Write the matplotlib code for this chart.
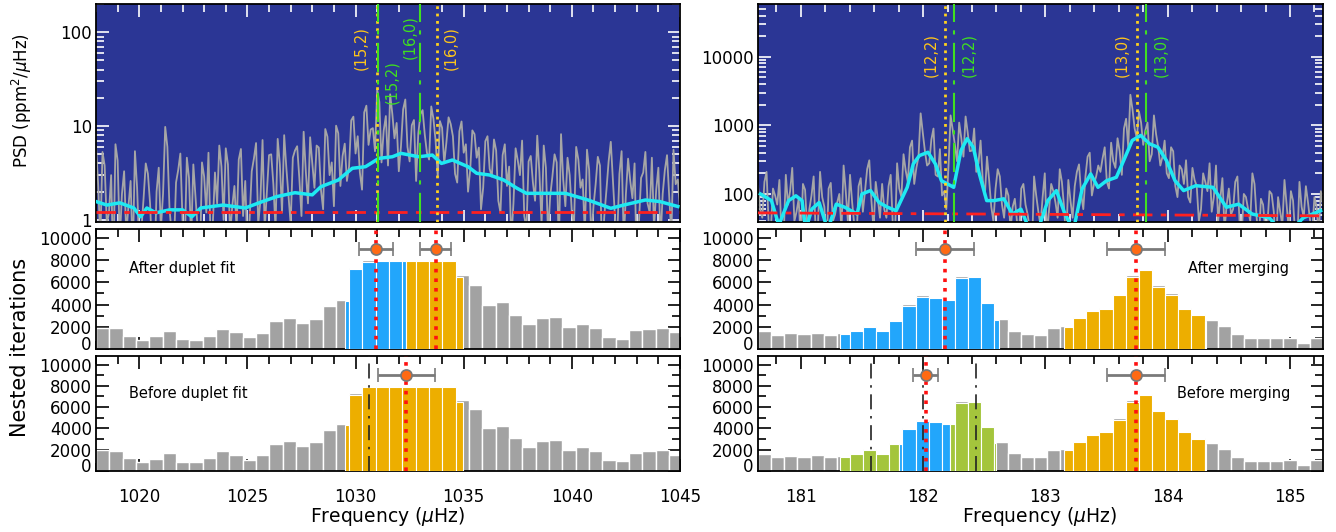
import numpy as np
import matplotlib
matplotlib.use('Agg')
import matplotlib.pyplot as plt
from matplotlib.ticker import MultipleLocator, FixedLocator, FixedFormatter, LogLocator, NullFormatter
from matplotlib.transforms import ScaledTranslation

# ---------------- top panels: power spectral density ----------------
# spectrum sampled on two interleaved grids (start, start + step/2)
psd_left_start, psd_left_step = 1018.0, 0.2
psd_left = [6.1, 0.6, 3.8, 1.2, 0.3, 4.3, 1.9, 0.7, 2.6, 5.4, 0.5,
            1.7, 3.1, 0.4, 2.0, 0.8, 9.8, 1.3, 0.5, 3.4, 1.0,
            4.6, 0.6, 1.8, 0.3, 2.9, 5.2, 0.9, 1.5, 3.7, 5.8,
            0.7, 2.3, 4.4, 1.1, 0.5, 3.3, 6.6, 1.6, 0.8, 4.9,
            2.4, 7.3, 1.2, 3.6, 0.9, 5.5, 2.8, 8.7, 1.5, 4.0,
            6.2, 2.1, 9.3, 3.0, 1.4, 8.4, 4.8, 2.6, 11.5, 5.1,
            3.2, 14.0, 6.3, 9.5, 24.5, 4.1, 12.8, 21.8, 7.4, 3.3,
            15.1, 6.0, 10.2, 2.6, 13.4, 8.1, 4.4, 12.0, 2.9, 9.6,
            6.7, 10.5, 3.1, 8.8, 5.2, 2.0, 9.0, 4.6, 1.3, 6.9,
            3.5, 7.2, 1.6, 4.9, 2.3, 0.6, 5.8, 3.0, 1.1, 4.2,
            2.5, 7.9, 0.9, 3.6, 1.8, 5.0, 0.5, 2.7, 4.6, 1.2,
            6.0, 2.2, 0.7, 3.4, 1.4, 4.7, 0.4, 2.1, 6.8, 1.0,
            3.1, 0.6, 4.5, 1.7, 0.3, 2.8, 5.3, 1.2, 0.8, 3.6,
            1.9, 4.9, 0.7, 2.4, 1.3]
psd_left_mid = [2.4, 5.3, 0.9, 3.0, 6.4, 0.6, 3.3, 1.4, 0.4, 2.2,
                0.8, 4.0, 1.5, 0.3, 3.6, 1.9, 6.0, 0.7, 2.5, 5.1,
                0.5, 2.8, 3.9, 0.8, 4.1, 1.2, 0.6, 3.2, 6.2, 1.0,
                3.9, 1.4, 0.8, 5.7, 2.6, 1.0, 4.5, 0.9, 7.1, 2.0,
                5.0, 0.8, 3.9, 8.0, 1.8, 4.6, 6.1, 1.1, 3.3, 7.6,
                2.2, 5.9, 1.3, 7.7, 4.1, 10.1, 2.3, 6.5, 3.7, 12.6,
                7.8, 2.1, 16.5, 9.2, 5.4, 18.0, 8.9, 3.8, 13.5, 10.8,
                6.1, 19.2, 4.2, 11.6, 8.3, 14.8, 5.2, 16.2, 7.0, 11.3,
                4.0, 12.4, 7.8, 2.5, 11.2, 6.4, 3.4, 8.2, 5.9, 2.2,
                7.8, 2.9, 5.5, 1.2, 6.4, 3.7, 1.5, 4.3, 7.0, 0.8,
                4.8, 1.6, 3.2, 6.2, 0.7, 2.9, 4.1, 8.2, 1.4, 3.0,
                0.9, 4.4, 2.7, 5.6, 0.6, 2.4, 3.8, 1.1, 4.2, 2.6,
                0.7, 5.4, 1.9, 2.6, 4.0, 0.9, 3.2, 1.5, 4.6, 2.1,
                0.6, 3.4, 1.8, 5.6, 2.7]
smooth_left_freq = [1018.0, 1018.5, 1019.1, 1019.75, 1020.06, 1020.35, 1020.77, 1021.4, 1022.0, 1022.43,
                    1022.84, 1023.87, 1024.9, 1025.7, 1026.35, 1027.2, 1028.0, 1028.4, 1029.2, 1029.85,
                    1030.46, 1031.08, 1031.7, 1032.1, 1032.93, 1033.55, 1033.97, 1034.48, 1035.2, 1035.6,
                    1036.2, 1036.85, 1037.47, 1037.9, 1038.7, 1039.7, 1040.75, 1041.8, 1042.4, 1043.4,
                    1044.06, 1044.9]
smooth_left_psd = [1.57, 1.44, 1.52, 1.34, 1.08, 1.34, 1.19, 1.28, 1.28, 1.08,
                   1.34, 1.44, 1.34, 1.57, 1.77, 1.95, 1.85, 2.26, 2.66, 3.55,
                   3.69, 4.53, 4.71, 5.12, 4.71, 4.91, 4.0, 4.35, 3.69, 3.14,
                   3.01, 2.66, 2.17, 1.92, 1.92, 1.92, 1.63, 1.33, 1.44, 1.63,
                   1.57, 1.39]
bg_left_freq = [1018.0, 1045.0]
bg_left_psd = [1.22, 1.22]

psd_right_start, psd_right_step = 180.65, 0.035
psd_right = [130, 45, 210, 30, 95, 160, 25, 70, 240, 55,
             20, 115, 60, 180, 35, 90, 15, 145, 50, 100,
             260, 40, 75, 20, 170, 110, 310, 30, 85, 140,
             45, 190, 25, 120, 380, 150, 600, 240, 1500, 420,
             280, 900, 180, 95, 60, 1400, 520, 1100, 350, 780,
             430, 210, 600, 95, 160, 40, 230, 70, 120, 30,
             85, 25, 140, 50, 15, 95, 35, 200, 60, 110,
             45, 150, 20, 80, 130, 270, 60, 350, 95, 180,
             210, 480, 120, 300, 650, 190, 1250, 2800, 900, 1600,
             520, 1100, 380, 750, 260, 600, 170, 420, 90, 230,
             310, 75, 160, 40, 200, 110, 55, 260, 85, 30,
             120, 60, 180, 25, 90, 40, 140, 20, 70, 35,
             100, 15, 55, 160, 30, 80, 20, 65, 130, 40,
             90, 25, 70]
psd_right_mid = [60, 150, 35, 120, 70, 25, 190, 110, 40, 85,
                 140, 30, 95, 25, 210, 65, 120, 40, 75, 30,
                 110, 190, 35, 130, 55, 230, 80, 150, 45, 60,
                 130, 35, 280, 90, 220, 480, 140, 350, 780, 260,
                 620, 190, 450, 110, 250, 850, 300, 650, 1350, 420,
                 900, 280, 160, 350, 65, 120, 180, 45, 95, 65,
                 40, 120, 70, 30, 180, 55, 90, 25, 140, 75,
                 230, 65, 160, 45, 210, 100, 180, 400, 140, 260,
                 330, 150, 560, 240, 420, 900, 480, 1700, 650, 1100,
                 850, 300, 1400, 480, 350, 200, 480, 130, 260, 140,
                 90, 240, 130, 60, 150, 280, 90, 40, 170, 70,
                 50, 150, 40, 100, 60, 200, 45, 85, 30, 110,
                 55, 90, 35, 70, 110, 25, 150, 45, 75, 30,
                 65, 110]
smooth_right_freq = [180.67, 180.76, 180.82, 180.90, 180.96, 181.01, 181.04, 181.09, 181.15, 181.22,
                     181.29, 181.36, 181.46, 181.50, 181.57, 181.64, 181.71, 181.78, 181.87, 181.92,
                     181.97, 182.04, 182.10, 182.15, 182.20, 182.25, 182.31, 182.36, 182.41, 182.46,
                     182.52, 182.58, 182.66, 182.73, 182.80, 182.87, 182.94, 183.02, 183.09, 183.16,
                     183.23, 183.30, 183.37, 183.43, 183.50, 183.58, 183.64, 183.71, 183.78, 183.85,
                     183.92, 183.99, 184.06, 184.13, 184.23, 184.37, 184.48, 184.58, 184.69, 184.83,
                     184.92, 185.01, 185.11, 185.25]
smooth_right_psd = [100, 80, 35, 80, 94, 80, 30, 60, 75, 30,
                    71, 64, 51, 100, 112, 75, 64, 57, 125, 275,
                    363, 406, 275, 156, 140, 125, 431, 640, 481, 196,
                    80, 80, 85, 51, 60, 30, 30, 80, 112, 51,
                    30, 118, 196, 125, 156, 175, 307, 604, 714, 540,
                    481, 307, 156, 112, 132, 125, 64, 71, 51, 45,
                    30, 30, 45, 57]
bg_right_freq = [180.65, 185.27]
bg_right_psd = [53, 48]

# mode identifications (yellow = one model, green = the other)
mode_labels_left = ['(15,2)', '(16,0)']
yellow_left_freq = [1031.0, 1033.75]
green_left_freq = [1031.05, 1033.0]
mode_labels_right = ['(12,2)', '(13,0)']
yellow_right_freq = [182.18, 183.75]
green_right_freq = [182.25, 183.82]

# ---------------- histograms of nested iterations ----------------
hist_left_start, hist_left_width = 1018.0, 0.616
hist_left = [1930, 1870, 1200, 810, 1140, 1660, 870, 810, 1200, 1840,
             1510, 1080, 1480, 2560, 2800, 2380, 2740, 3890, 4400, 7290,
             7980, 8000, 8000, 8000, 8000, 8000, 8000, 6630, 5800, 4000,
             4200, 3100, 2230, 2800, 2890, 1990, 2230, 1900, 1060, 900,
             1720, 1840, 1930, 1510]
hist_right_start, hist_right_width = 180.65, 0.1074
hist_right = [1630, 1270, 1450, 1330, 1480, 1300, 1420, 1720, 2110, 1720,
              2650, 4010, 4820, 4670, 4490, 6540, 6570, 4250, 2710, 1660,
              1360, 1300, 1930, 2110, 2860, 3490, 3730, 4940, 6630, 7230,
              5720, 5000, 3730, 3130, 2620, 2110, 1330, 960, 960, 960,
              990, 570, 990]

BLUE, YELLOW, GREEN = '#22a6fb', '#edae00', '#a4c53c'
after_left_ranges = [(1029.53, 1032.34, BLUE), (1032.34, 1034.95, YELLOW)]
before_left_ranges = [(1029.53, 1034.95, YELLOW)]
after_right_ranges = [(181.32, 182.62, BLUE), (183.15, 184.31, YELLOW)]
before_right_ranges = [(181.32, 181.80, GREEN), (181.80, 182.22, BLUE),
                       (182.22, 182.60, GREEN), (183.15, 184.31, YELLOW)]

fit_level = 9000
after_left_fit = [1030.95, 1033.7]
after_left_err = [0.8, 0.73]
before_left_fit = [1032.35]
before_left_err = [1.3]
after_right_fit = [182.18, 183.74]
after_right_err = [0.235, 0.235]
before_right_fit = [182.02, 183.74]
before_right_err = [0.1, 0.235]
before_left_peaks = [1030.61]
before_right_peaks = [181.57, 182.0, 182.43]

# ---------------- figure ----------------
plt.rcParams['font.family'] = 'DejaVu Sans'
plt.rcParams['mathtext.fontset'] = 'dejavusans'
W, H = 1336, 532
fig = plt.figure(figsize=(W / 100, H / 100), dpi=100)


def box(x0, x1, y0, y1):
    return [x0 / W, 1 - y1 / H, (x1 - x0) / W, (y1 - y0) / H]


LX, RX = (96, 680), (758, 1323)
ax_tl = fig.add_axes(box(LX[0], LX[1], 4, 222))
ax_tr = fig.add_axes(box(RX[0], RX[1], 4, 222))
ax_ml = fig.add_axes(box(LX[0], LX[1], 229, 349))
ax_mr = fig.add_axes(box(RX[0], RX[1], 229, 349))
ax_bl = fig.add_axes(box(LX[0], LX[1], 356, 471))
ax_br = fig.add_axes(box(RX[0], RX[1], 356, 471))

XL = (1018.0, 1045.0)
XR = (180.65, 185.27)


def style_axes(ax, xlim, major, minor, tick_color='black'):
    ax.set_xlim(*xlim)
    ax.xaxis.set_major_locator(MultipleLocator(major))
    ax.xaxis.set_minor_locator(MultipleLocator(minor))
    ax.tick_params(which='both', direction='in', top=True, right=True,
                   color=tick_color, labelsize=12, width=1.2)
    ax.tick_params(which='major', length=9)
    ax.tick_params(which='minor', length=6)
    ax.tick_params(axis='x', pad=12)
    ax.tick_params(axis='y', pad=3)
    for s in ax.spines.values():
        s.set_linewidth(1.3)


def psd_panel(ax, start, step, vals, mids, sfreq, spsd, bgf, bgp, ylim, yticks,
              labels, yfreq, gfreq, y_off, g_off, label_y):
    freq = np.concatenate([start + step * np.arange(len(vals)),
                           start + step / 2 + step * np.arange(len(mids))])
    power = np.concatenate([vals, mids])
    order = np.argsort(freq)
    ax.set_facecolor('#2b3695')
    ax.plot(freq[order], power[order], color='#a6a6a6', lw=1.3, zorder=2)
    ax.plot(sfreq, spsd, color='#1fe9f2', lw=2.5, zorder=3)
    ax.plot(bgf, bgp, color='#ff2020', lw=2, dashes=(7, 3, 2, 3), zorder=3)
    for lab, f, dx in zip(labels, yfreq, y_off):
        ax.axvline(f, color='#ffd21f', ls=':', lw=2, zorder=4)
        ax.annotate(lab, xy=(f, label_y[0]), xycoords=('data', 'axes fraction'),
                    xytext=(dx, 0), textcoords='offset points', rotation=90,
                    ha='center', va='center', color='#ffc61a', fontsize=10.5)
    for lab, f, dx, ly in zip(labels, gfreq, g_off, label_y[1:]):
        ax.axvline(f, color='#40e020', lw=1.5, dashes=(14, 4, 2, 4), zorder=4)
        ax.annotate(lab, xy=(f, ly), xycoords=('data', 'axes fraction'),
                    xytext=(dx, 0), textcoords='offset points', rotation=90,
                    ha='center', va='center', color='#3fe01f', fontsize=10.5)
    ax.set_yscale('log')
    ax.set_ylim(*ylim)
    ax.yaxis.set_major_locator(FixedLocator(yticks))
    ax.yaxis.set_major_formatter(FixedFormatter([str(t) for t in yticks]))
    ax.yaxis.set_minor_locator(LogLocator(base=10, subs=np.arange(2, 10)))
    ax.yaxis.set_minor_formatter(NullFormatter())
    ax.tick_params(axis='x', labelbottom=False)


style_axes(ax_tl, XL, 5, 1, 'white')
psd_panel(ax_tl, psd_left_start, psd_left_step, psd_left, psd_left_mid,
          smooth_left_freq, smooth_left_psd,
          bg_left_freq, bg_left_psd, (0.95, 200), [1, 10, 100],
          mode_labels_left, yellow_left_freq, green_left_freq,
          [-11.5, 10], [10, -7.5], [0.80, 0.64, 0.85])

style_axes(ax_tr, XR, 1, 0.2, 'white')
psd_panel(ax_tr, psd_right_start, psd_right_step, psd_right, psd_right_mid,
          smooth_right_freq, smooth_right_psd,
          bg_right_freq, bg_right_psd, (39, 59000), [100, 1000, 10000],
          mode_labels_right, yellow_right_freq, green_right_freq,
          [-10, -11], [11, 11], [0.765, 0.765, 0.765])


def hist_panel(ax, start, width, vals, ranges, fits, errs, peaks, text, text_x, xlim, major, minor):
    style_axes(ax, xlim, major, minor)
    edges = start + width * np.arange(len(vals))
    ax.bar(edges, vals, width=width, align='edge', color='#a2a2a2',
           edgecolor='white', linewidth=1, zorder=2)
    for lo, hi, col in ranges:
        for e, h in zip(edges, vals):
            a, b = max(e, lo), min(e + width, hi)
            if b > a:
                ax.bar(a, h - 110, width=b - a, align='edge', color=col,
                       edgecolor='white', linewidth=0.8, zorder=3)
    for p in peaks:
        ax.axvline(p, color='#222222', lw=1.2, dashes=(9, 4, 1.5, 4), zorder=4)
    for f in fits:
        ax.axvline(f, color='#ff1010', ls=':', lw=2.6, zorder=5)
    ax.errorbar(fits, [fit_level] * len(fits), xerr=errs, fmt='o', color='#ff6a13',
                mec='#777777', mew=1.2, ms=8, ecolor='#7a7a7a', elinewidth=2,
                capsize=5, capthick=2, zorder=6)
    ax.text(text_x, 0.675, text, transform=ax.transAxes, fontsize=10.5, va='center')
    ax.set_ylim(0, 10800)
    ax.yaxis.set_minor_locator(MultipleLocator(1000))
    ax.yaxis.set_major_locator(FixedLocator([0, 2000, 4000, 6000, 8000, 10000]))
    ax.yaxis.set_major_formatter(FixedFormatter(['0', '2000', '4000', '6000', '8000', '10000']))
    zero = ax.yaxis.get_major_ticks()[0].label1
    zero.set_transform(zero.get_transform() + ScaledTranslation(0, 4 / 72, fig.dpi_scale_trans))


hist_panel(ax_ml, hist_left_start, hist_left_width, hist_left, after_left_ranges,
           after_left_fit, after_left_err, [], 'After duplet fit', 0.057, XL, 5, 1)
hist_panel(ax_bl, hist_left_start, hist_left_width, hist_left, before_left_ranges,
           before_left_fit, before_left_err, before_left_peaks, 'Before duplet fit', 0.057, XL, 5, 1)
hist_panel(ax_mr, hist_right_start, hist_right_width, hist_right, after_right_ranges,
           after_right_fit, after_right_err, [], 'After merging', 0.761, XR, 1, 0.2)
hist_panel(ax_br, hist_right_start, hist_right_width, hist_right, before_right_ranges,
           before_right_fit, before_right_err, before_right_peaks, 'Before merging', 0.742, XR, 1, 0.2)
ax_ml.tick_params(axis='x', labelbottom=False)
ax_mr.tick_params(axis='x', labelbottom=False)

fig.text(388 / W, 1 - 517 / H, r'Frequency ($\mu$Hz)', ha='center', va='center', fontsize=13.5)
fig.text(1040 / W, 1 - 517 / H, r'Frequency ($\mu$Hz)', ha='center', va='center', fontsize=13.5)
fig.text(20 / W, 1 - 347 / H, 'Nested iterations', rotation=90, ha='center', va='center', fontsize=15)
fig.text(22 / W, 1 - 100 / H, r'PSD (ppm$^2$/$\mu$Hz)', rotation=90, ha='center', va='center', fontsize=12)

fig.savefig('out.png', dpi=100)
